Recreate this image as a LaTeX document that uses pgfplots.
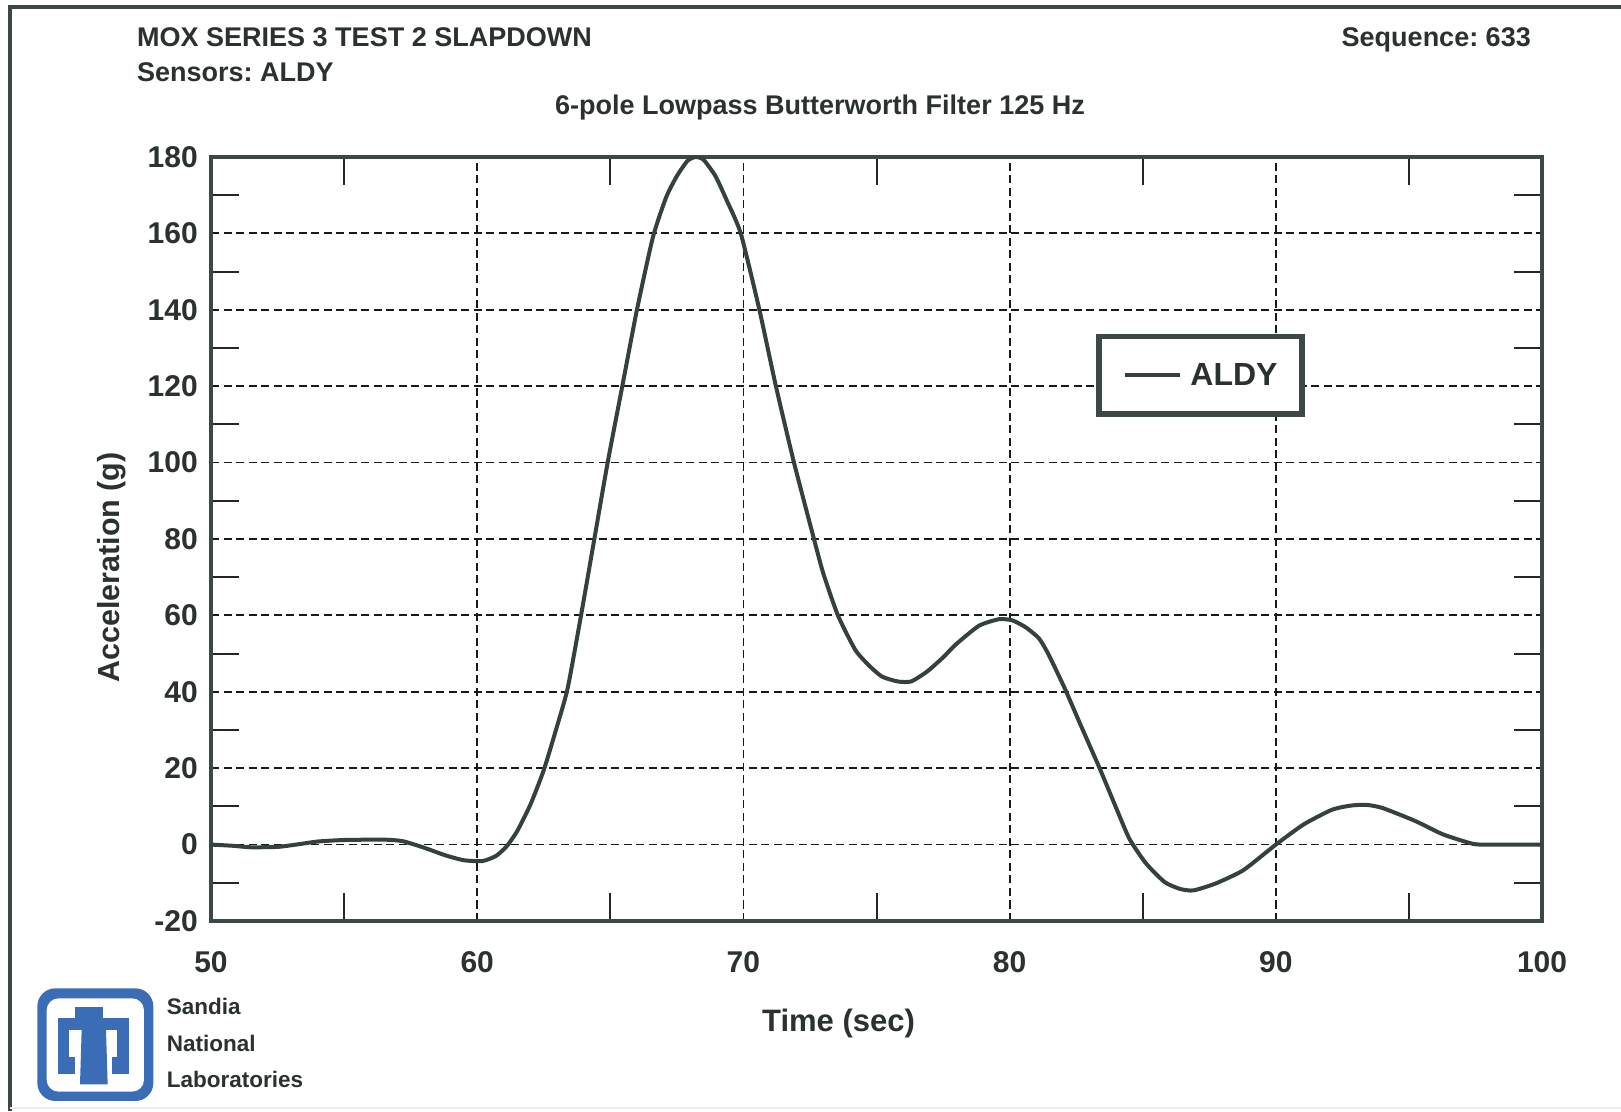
\documentclass[border=0pt]{standalone}
\usepackage{fontspec}
\setmainfont{Liberation Sans}
\usepackage{pgfplots}
\pgfplotsset{compat=1.18}
\definecolor{frame}{HTML}{3C4747}
\definecolor{curve}{HTML}{354040}
\definecolor{txt}{HTML}{2B3030}
\definecolor{sandia}{HTML}{3A6DB6}
\frenchspacing
\begin{document}
\frenchspacing
\begin{tikzpicture}[x=1bp,y=1bp]
\useasboundingbox (0,0) rectangle (1621,1111);
\fill[white] (0,0) rectangle (1621,1111);
\draw[frame, line width=3.5bp] (10,0) -- (10,1104) -- (1621,1104);
\draw[black!8, line width=2bp] (10,3) -- (1621,3);

\begin{axis}[
  at={(211bp,190bp)}, anchor=south west,
  width=1331bp, height=764bp, scale only axis,
  xmin=50, xmax=100, ymin=-20, ymax=180,
  xtick={50,60,...,100}, xticklabels={50,60,70,80,90,100},
  ytick={-20,0,...,180}, yticklabels={-20,0,20,40,60,80,100,120,140,160,180},
  minor x tick num=1, minor y tick num=1,
  major tick length=0pt, minor tick length=28bp, tick align=inside,
  minor tick style={line width=2bp, black!85},
  grid=major,
  major grid style={black!90, line width=1.8bp, dash pattern=on 8bp off 4.5bp},
  axis line style={frame, line width=3.5bp},
  ticklabel style={font=\fontsize{30bp}{36bp}\selectfont\bfseries, text=txt, inner sep=0pt},
  yticklabel style={xshift=-13bp},
  xticklabel style={yshift=-30bp},
  legend style={at={(0.7434,0.714)}, anchor=center, draw=frame, line width=5.5bp,
    inner xsep=24.5bp, inner ysep=27bp, font=\fontsize{32bp}{38bp}\selectfont\bfseries,
    text=txt, nodes={inner sep=0pt}, column sep=8bp},
  legend image code/.code={\draw[#1, line width=4bp] (0bp,0bp) -- (55bp,0bp);},
]
\addplot[curve, line width=4bp, line join=round, smooth, tension=0.35] coordinates {
(50,0) (50.8,-0.3) (51.5,-0.7) (52.5,-0.6) (53.2,0) (54,0.8) (55,1.2) (56.5,1.3)
(57.2,0.9) (58,-0.8) (58.8,-2.8) (59.5,-4.1) (60.2,-4.3) (60.7,-3) (61.1,-0.5)
(61.5,3.5) (62,10.5) (62.5,19.5) (63,31) (63.4,41) (63.9,60) (64.4,80) (64.9,100)
(65.45,120) (66.0,140) (66.6,159) (67.1,169.5) (67.5,175) (67.9,179) (68.2,180)
(68.5,179.3) (68.95,175) (69.35,169) (69.9,160) (70.6,140) (71.22,120) (71.9,100)
(72.65,80) (73.0,71) (73.55,60) (74.2,51) (74.7,47) (75.2,44) (75.8,42.7) (76.3,42.7)
(76.9,45.3) (77.5,49) (77.98,52.4) (78.85,57.3) (79.6,59) (80.1,58.7) (80.6,56.9)
(81.1,54) (81.46,49.8) (82.07,40.9) (82.68,31.1) (83.38,20) (83.99,9.8) (84.5,1.5)
(85.12,-4.9) (85.82,-9.8) (86.4,-11.6) (86.9,-12) (87.73,-10.2) (88.78,-6.7) (90,0)
(91.05,5.3) (92.1,9.1) (92.8,10.2) (93.4,10.4) (94.0,9.6) (95.23,6.2) (96.27,2.7)
(97.4,0.2) (98,0) (100,0)
};
\addlegendentry{ALDY}
\end{axis}

\begin{scope}[every node/.style={inner sep=0pt, text=txt}]
\node[anchor=base west, font=\fontsize{27bp}{32bp}\selectfont\bfseries] at (137,1064.3) {MOX SERIES 3 TEST 2 SLAPDOWN};
\node[anchor=base west, font=\fontsize{27bp}{32bp}\selectfont\bfseries] at (137,1029.3) {Sensors: ALDY};
\node[anchor=base east, font=\fontsize{27bp}{32bp}\selectfont\bfseries] at (1531,1064.5) {Sequence: 633};
\node[anchor=base, font=\fontsize{27bp}{32bp}\selectfont\bfseries] at (820,996) {6-pole Lowpass Butterworth Filter 125 Hz};
\node[font=\fontsize{31bp}{36bp}\selectfont\bfseries] at (838.5,87.5) {Time (sec)};
\node[rotate=90, font=\fontsize{30.5bp}{36bp}\selectfont\bfseries] at (112,543.5) {Acceleration (g)};
\node[anchor=base west, font=\fontsize{22.5bp}{27bp}\selectfont\bfseries] at (166.7,96.7) {Sandia};
\node[anchor=base west, font=\fontsize{22.5bp}{27bp}\selectfont\bfseries] at (166.7,59.3) {National};
\node[anchor=base west, font=\fontsize{22.5bp}{27bp}\selectfont\bfseries] at (166.7,23.7) {Laboratories};
\end{scope}

\begin{scope}[shift={(30,126)}, x=0.33333bp, y=-0.33333bp]
\fill[sandia, rounded corners=18bp] (22,10) rectangle (370,348);
\fill[white, rounded corners=12bp] (50,40) rectangle (342,320);
\fill[sandia] (135,65) rectangle (220,100);
\fill[sandia] (83,98) rectangle (298,135);
\fill[sandia] (83,134) rectangle (118,268);
\fill[sandia] (117,215) rectangle (135,268);
\fill[sandia] (262,134) rectangle (298,268);
\fill[sandia] (245,215) rectangle (263,268);
\fill[sandia] (155,134) -- (228,134) -- (233,298) -- (150,298) -- cycle;
\end{scope}
\end{tikzpicture}
\end{document}
